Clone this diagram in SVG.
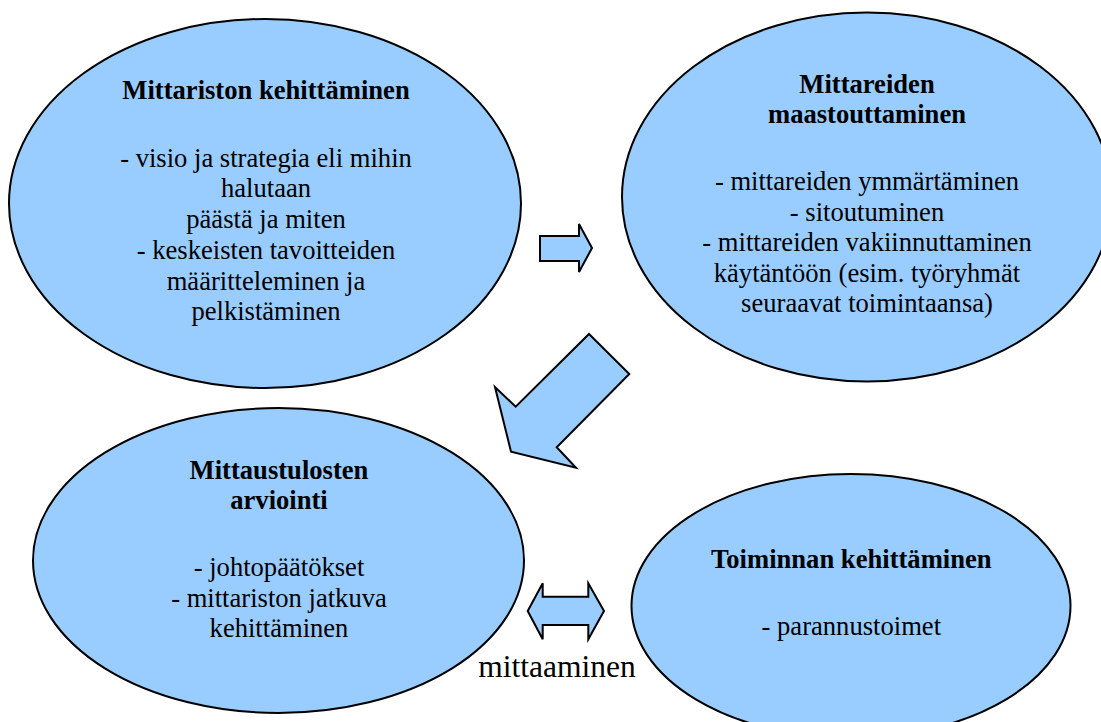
<svg xmlns="http://www.w3.org/2000/svg" width="1101" height="722" viewBox="0 0 1101 722">
  <style>
    .shape { fill: #99ccff; stroke: #000; stroke-width: 2; stroke-linejoin: miter; }
    text { font-family: "Liberation Serif", "Times New Roman", serif; font-size: 26.6px; fill: #000; text-anchor: middle; }
    .title { font-weight: bold; }
    .label { font-size: 31.5px; }
  </style>
  <rect width="1101" height="722" fill="#fff"/>

  <!-- connectors: block arrows between the phases -->
  <g id="connectors">
    <polygon class="shape" points="540,236 579,236 579,224 592,248 579,272 579,261 540,261"/>
    <polygon class="shape" points="589,334 629.3,374 556.7,447.3 576,467.7 511,451.7 495,387 515.7,406.7"/>
    <polygon class="shape" points="527.7,611 542.7,583.3 542.7,596.7 588.3,596.7 588.3,583.3 604,611 588.3,639.3 588.3,625 542.7,625 542.7,639.3"/>
    <text class="label" x="557" y="677">mittaaminen</text>
  </g>

  <g id="node-mittariston-kehittaminen">
    <ellipse class="shape" cx="265" cy="203.5" rx="256" ry="184.5"/>
    <text class="title" x="266" y="99.3">Mittariston kehittäminen</text>
    <text x="266" y="166.7">- visio ja strategia eli mihin</text>
    <text x="266" y="197.4">halutaan</text>
    <text x="266" y="228.1">päästä ja miten</text>
    <text x="266" y="258.8">- keskeisten tavoitteiden</text>
    <text x="266" y="289.5">määritteleminen ja</text>
    <text x="266" y="320.2">pelkistäminen</text>
  </g>

  <g id="node-mittareiden-maastouttaminen">
    <ellipse class="shape" cx="867" cy="197" rx="245" ry="184.5"/>
    <text class="title" x="867" y="92.7">Mittareiden</text>
    <text class="title" x="867" y="122.7">maastouttaminen</text>
    <text x="867" y="190">- mittareiden ymmärtäminen</text>
    <text x="867" y="220.7">- sitoutuminen</text>
    <text x="867" y="251.2">- mittareiden vakiinnuttaminen</text>
    <text x="867" y="281.7">käytäntöön (esim. työryhmät</text>
    <text x="867" y="312.3">seuraavat toimintaansa)</text>
  </g>

  <g id="node-mittaustulosten-arviointi">
    <ellipse class="shape" cx="278.5" cy="560.5" rx="245.5" ry="152.5"/>
    <text class="title" x="279" y="479">Mittaustulosten</text>
    <text class="title" x="279" y="509.3">arviointi</text>
    <text x="279" y="576">- johtopäätökset</text>
    <text x="279" y="606.7">- mittariston jatkuva</text>
    <text x="279" y="637.3">kehittäminen</text>
  </g>

  <g id="node-toiminnan-kehittaminen">
    <ellipse class="shape" cx="851" cy="606" rx="219.5" ry="132"/>
    <text class="title" x="851.3" y="568.3">Toiminnan kehittäminen</text>
    <text x="851.3" y="635">- parannustoimet</text>
  </g>
</svg>
